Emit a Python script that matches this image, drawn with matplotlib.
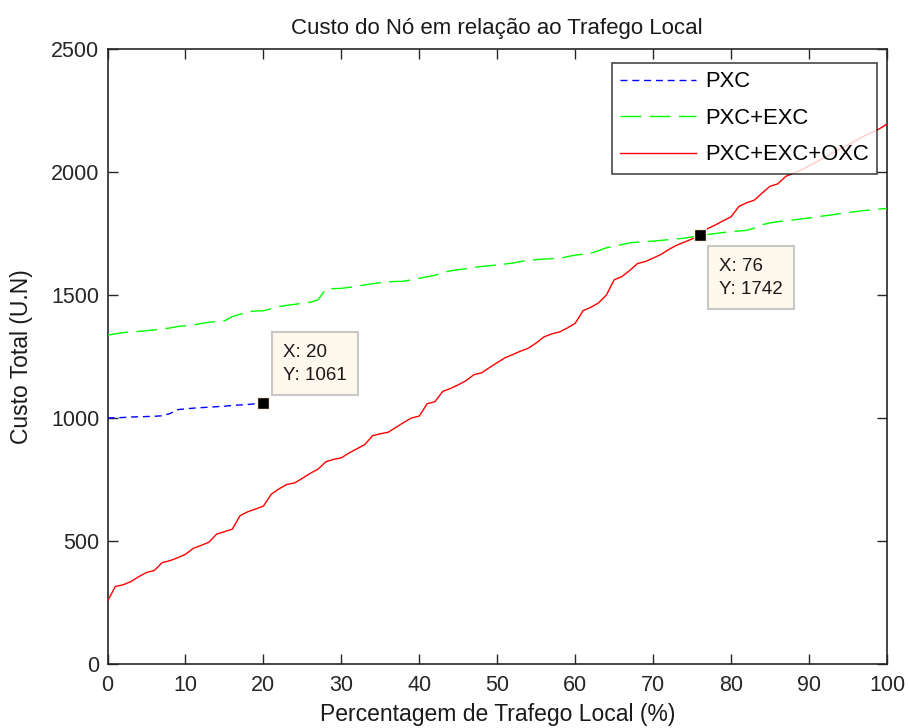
import matplotlib
matplotlib.use("Agg")
import matplotlib.pyplot as plt
import numpy as np

plt.rcParams['font.family'] = ['Liberation Sans', 'DejaVu Sans']
plt.rcParams['lines.scale_dashes'] = False

# Percentage of local traffic (%)
trafego = list(range(0, 101))

# Node cost for each architecture (U.N)
custo_pxc = [1000, 1001, 1002, 1004, 1005, 1006, 1007, 1009, 1018, 1034,
             1037, 1040, 1042, 1044, 1046, 1048, 1051, 1053, 1055, 1058, 1061]

custo_pxc_exc = [1337, 1342, 1347, 1350, 1352, 1355, 1358, 1362, 1366, 1372,
                 1375, 1378, 1384, 1389, 1392, 1395, 1412, 1422, 1432, 1435,
                 1436, 1444, 1453, 1458, 1462, 1466, 1470, 1480, 1524, 1526,
                 1527, 1531, 1536, 1541, 1546, 1550, 1554, 1555, 1556, 1562,
                 1568, 1574, 1580, 1592, 1598, 1603, 1607, 1612, 1616, 1619,
                 1622, 1626, 1630, 1636, 1641, 1644, 1646, 1648, 1649, 1656,
                 1662, 1666, 1670, 1680, 1692, 1698, 1705, 1712, 1715, 1717,
                 1719, 1722, 1725, 1728, 1731, 1736, 1742, 1746, 1750, 1754,
                 1758, 1760, 1763, 1772, 1786, 1793, 1798, 1802, 1805, 1809,
                 1813, 1818, 1822, 1826, 1831, 1835, 1839, 1843, 1846, 1849,
                 1852]

custo_pxc_exc_oxc = [256, 315, 322, 335, 355, 372, 380, 412, 420, 432,
                     446, 470, 482, 495, 528, 538, 548, 603, 619, 630,
                     642, 690, 712, 730, 736, 755, 775, 792, 822, 832,
                     838, 858, 875, 892, 928, 936, 942, 962, 982, 1000,
                     1008, 1058, 1066, 1108, 1120, 1135, 1152, 1176, 1184, 1205,
                     1225, 1245, 1258, 1272, 1284, 1305, 1330, 1342, 1350, 1366,
                     1385, 1436, 1450, 1468, 1500, 1562, 1575, 1600, 1628, 1636,
                     1650, 1665, 1685, 1702, 1715, 1728, 1742, 1770, 1785, 1802,
                     1818, 1860, 1875, 1886, 1915, 1942, 1952, 1982, 1995, 2008,
                     2025, 2042, 2060, 2078, 2095, 2110, 2128, 2145, 2160, 2175,
                     2195]

# Data tip positions (x values)
tip_pxc_x = 20
tip_cross_x = 76

fig = plt.figure(figsize=(9.09, 7.28), dpi=100)
ax = fig.add_axes([0.1183, 0.0879, 0.8575, 0.8448])

ax.plot(trafego[:len(custo_pxc)], custo_pxc, color=(0, 0, 1), lw=1.0,
        dashes=(5, 3.5), label='PXC', zorder=3)
ax.plot(trafego, custo_pxc_exc, color=(0, 1, 0), lw=1.0,
        dashes=(15, 6), label='PXC+EXC', zorder=3)
ax.plot(trafego, custo_pxc_exc_oxc, color=(1, 0, 0), lw=1.0,
        label='PXC+EXC+OXC', zorder=3)

ax.set_xlim(0, 100)
ax.set_ylim(0, 2500)
ax.set_xticks(np.arange(0, 101, 10))
ax.set_yticks(np.arange(0, 2501, 500))
ax.tick_params(direction='in', length=7, width=1.0, top=True, right=True,
               labelsize=15.5, colors='#262626')
ax.tick_params(axis='x', pad=8)
ax.tick_params(axis='y', pad=6)
for s in ax.spines.values():
    s.set_linewidth(1.2)
    s.set_color('#262626')

ax.set_title('Custo do Nó em relação ao Trafego Local', fontsize=16,
             color='#1a1a1a', pad=11)
ax.set_xlabel('Percentagem de Trafego Local (%)', fontsize=16.5,
              color='#1a1a1a', labelpad=5)
ax.set_ylabel('Custo Total (U.N)', fontsize=16.5, color='#1a1a1a', labelpad=13)

leg = ax.legend(loc='upper right', bbox_to_anchor=(0.987, 0.977), fontsize=15.8,
                frameon=True, fancybox=False, handlelength=3.45,
                handletextpad=0.42, borderpad=0.38, labelspacing=0.7,
                borderaxespad=0)
leg.get_frame().set_edgecolor('#1a1a1a')
leg.get_frame().set_linewidth(1.2)
leg.set_zorder(5)

tip_box = dict(boxstyle='square,pad=0.6', facecolor='#FFF8EC',
               edgecolor='#C8C8C8', linewidth=1.5)

# Data tip on PXC at x = 20
y20 = custo_pxc[tip_pxc_x]
ax.plot([tip_pxc_x], [y20], 's', color='black', ms=9,
        mec='#FFF3E0', mew=1, zorder=6)
ax.annotate(f'X: {tip_pxc_x}\nY: {y20}', xy=(tip_pxc_x, y20),
            xytext=(14, 14), textcoords='offset points', fontsize=13.5,
            color='#1a1a1a', va='bottom', ha='left', linespacing=1.45,
            bbox=tip_box, zorder=7)

# Data tip on the crossing at x = 76
y76 = custo_pxc_exc_oxc[tip_cross_x]
ax.plot([tip_cross_x], [y76], 's', color='black', ms=9,
        mec='#FFF3E0', mew=1, zorder=6)
ax.annotate(f'X: {tip_cross_x}\nY: {y76}', xy=(tip_cross_x, y76),
            xytext=(14, -16), textcoords='offset points', fontsize=13.5,
            color='#1a1a1a', va='top', ha='left', linespacing=1.45,
            bbox=tip_box, zorder=7)

fig.savefig('out.png', dpi=100)
